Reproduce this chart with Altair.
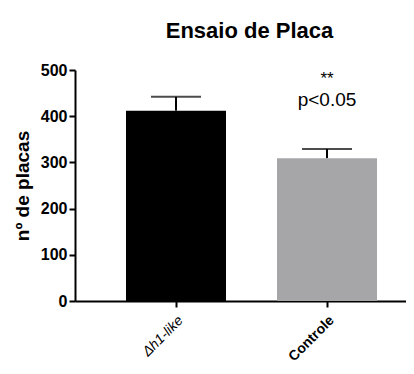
import altair as alt
import pandas as pd

categories = ["Δh1-like", "Controle"]
means = [412, 309]
errors = [30, 20]
colors = ["#000000", "#a6a6a9"]

ann_cat = ["Controle", "Controle"]
ann_text = ["**", "p<0.05"]
ann_y = [481, 435]
ann_size = [17, 19]

df = pd.DataFrame({"cat": categories, "mean": means,
                   "upper": [m + e for m, e in zip(means, errors)],
                   "color": colors})
ann = pd.DataFrame({"cat": ann_cat, "text": ann_text, "y": ann_y, "size": ann_size})

FONT = "Liberation Sans"

x = alt.X("cat:N", sort=categories, title=None,
          scale=alt.Scale(paddingInner=0.338, paddingOuter=0.265, align=0.6375),
          axis=alt.Axis(labelAngle=-45, labelFontSize=14, labelColor="black",
                        labelFont=FONT,
                        labelFontWeight=alt.condition("datum.value == 'Controle'", alt.value("bold"), alt.value("normal")),
                        labelFontStyle=alt.condition("datum.value == 'Controle'", alt.value("normal"), alt.value("italic")),
                        domainColor="black", domainWidth=2, tickColor="black",
                        tickWidth=2, tickSize=6, labelPadding=6))

y = alt.Y("mean:Q", title="nº de placas",
          scale=alt.Scale(domain=[0, 500], nice=False),
          axis=alt.Axis(values=[0, 100, 200, 300, 400, 500], labelFontSize=16,
                        labelFontWeight="bold", labelColor="black", labelFont=FONT,
                        titleFont=FONT, titleFontSize=19, titleFontWeight="bold",
                        titleColor="black", titlePadding=8,
                        domainColor="black", domainWidth=2, tickColor="black",
                        tickWidth=2, tickSize=6, grid=False, labelPadding=2))

stem = alt.Chart(df).mark_rule(color="black", strokeWidth=2).encode(
    x=x, y=alt.Y("mean:Q"), y2="upper:Q")
cap = alt.Chart(df).mark_tick(color="black", thickness=2, size=50).encode(
    x=x, y=alt.Y("upper:Q"))
bars = alt.Chart(df).mark_bar(size=100).encode(
    x=x, y=y, color=alt.Color("color:N", scale=None))
text = alt.Chart(ann).mark_text(font=FONT, color="black").encode(
    x=alt.X("cat:N", sort=categories), y=alt.Y("y:Q"), text="text:N",
    size=alt.Size("size:Q", scale=None, legend=None))

chart = alt.layer(stem, cap, bars, text).properties(
    width=331, height=231,
    autosize=alt.AutoSizeParams(type="none"),
    padding={"left": 67, "top": 62, "right": 0, "bottom": 65},
    title=alt.Title("Ensaio de Placa", font=FONT, fontSize=22, fontWeight="bold",
                    color="black", anchor="middle", dx=9, offset=19),
).configure_view(stroke=None)

chart.save("out.html", embed_options={"renderer": "svg", "actions": False})
